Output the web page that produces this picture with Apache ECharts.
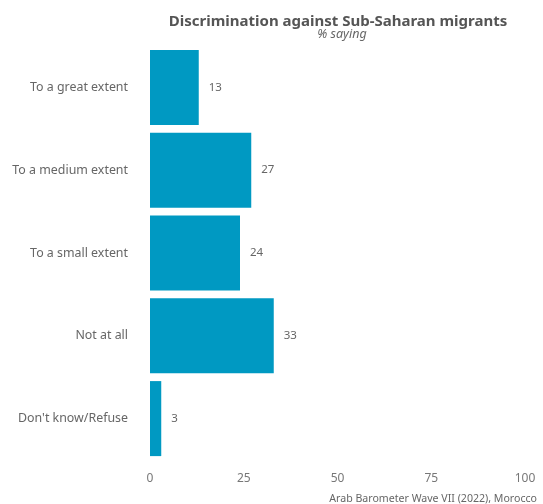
<!DOCTYPE html>
<html><head><meta charset="utf-8">
<script src="https://cdn.jsdelivr.net/npm/echarts@6/dist/echarts.min.js"></script>
<style>html,body{margin:0;padding:0;background:#fff}#c{width:543px;height:504px}</style>
</head><body><div id="c"></div>
<script>
const categories = ["To a great extent","To a medium extent","To a small extent","Not at all","Don't know/Refuse"];
const values = [13, 27, 24, 33, 3];
const xTicks = [0, 25, 50, 75, 100];
const titleText = "Discrimination against Sub-Saharan migrants";
const subtitleText = "% saying";
const captionText = "Arab Barometer Wave VII (2022), Morocco";

const FONT = "Noto Sans";
const chart = echarts.init(document.getElementById('c'), null, {renderer:'canvas'});
chart.setOption({
  animation:false,
  backgroundColor:'#fff',
  title:[
    {text:titleText, left:333, top:9, textAlign:'center',
     textStyle:{fontFamily:FONT, fontSize:15, fontWeight:'bold', color:'#555'}},
    {text:subtitleText, left:337, top:23, textAlign:'center',
     textStyle:{fontFamily:FONT, fontSize:12.5, fontStyle:'italic', fontWeight:'normal', color:'#666'}},
    {text:captionText, right:1, top:488,
     textStyle:{fontFamily:FONT, fontSize:10.6, fontWeight:'normal', color:'#666'}}
  ],
  grid:{left:150, right:18, top:46, bottom:44, containLabel:false},
  xAxis:{type:'value', min:xTicks[0], max:xTicks[xTicks.length-1], interval:25,
    axisLine:{show:false}, axisTick:{show:false}, splitLine:{show:false},
    axisLabel:{fontFamily:FONT, fontSize:12, color:'#777', margin:13}},
  yAxis:{type:'category', data:categories, inverse:true,
    axisLine:{show:false}, axisTick:{show:false}, splitLine:{show:false},
    axisLabel:{fontFamily:FONT, fontSize:12.4, color:'#666', margin:22}},
  series:[{type:'bar', data:values, barCategoryGap:'9.4%',
    itemStyle:{color:'#0099c2'},
    label:{show:true, position:'right', distance:10, fontFamily:FONT, fontSize:11.5, color:'#666'}}]
});
</script></body></html>
